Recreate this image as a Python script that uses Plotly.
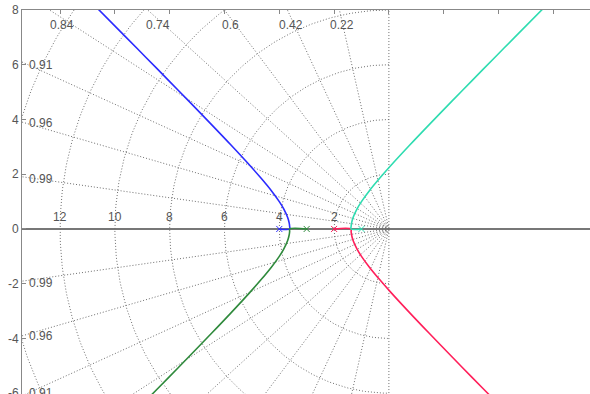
import numpy as np
import plotly.graph_objects as go

# ---- data ----
poles_x = [-1.0, -2.0, -3.0, -4.0]
poles_y = [0.0, 0.0, 0.0, 0.0]

# branch starting at pole -1 (upper right)
cyan_x = [-1.0, -1.382, -1.3784, -1.3607, -1.3061, -1.1568, -1.0, -0.7106, -0.3382, 0.0802,
          0.7626, 1.4545, 2.3098, 3.0345, 3.874, 4.6155, 5.601]
cyan_y = [0.0, 0.0, 0.0892, 0.2195, 0.4188, 0.7445, 1.0, 1.3971, 1.8503, 2.3254,
          3.0651, 3.7932, 4.678, 5.4205, 6.2755, 7.027, 8.024]
# branch starting at pole -2 (lower right)
red_x = [-2.0, -1.382, -1.3784, -1.3607, -1.3061, -1.1568, -1.0, -0.7106, -0.3382, 0.0802,
         0.7626, 1.4545, 2.3098, 3.0345, 3.874, 4.6155, 5.601]
red_y = [0.0, 0.0, -0.0892, -0.2195, -0.4188, -0.7445, -1.0, -1.3971, -1.8503, -2.3254,
         -3.0651, -3.7932, -4.678, -5.4205, -6.2755, -7.027, -8.024]
# branch starting at pole -4 (upper left)
blue_x = [-4.0, -3.618, -3.6216, -3.6393, -3.6939, -3.8432, -4.0, -4.2894, -4.6618, -5.0802,
          -5.7626, -6.4545, -7.3098, -8.0345, -8.874, -9.6155, -10.601]
blue_y = [0.0, 0.0, 0.0892, 0.2195, 0.4188, 0.7445, 1.0, 1.3971, 1.8503, 2.3254,
          3.0651, 3.7932, 4.678, 5.4205, 6.2755, 7.027, 8.024]
# branch starting at pole -3 (lower left)
green_x = [-3.0, -3.618, -3.6216, -3.6393, -3.6939, -3.8432, -4.0, -4.2894, -4.6618, -5.0802,
           -5.7626, -6.4545, -7.3098, -8.0345, -8.874, -9.6155, -10.601]
green_y = [0.0, 0.0, -0.0892, -0.2195, -0.4188, -0.7445, -1.0, -1.3971, -1.8503, -2.3254,
           -3.0651, -3.7932, -4.678, -5.4205, -6.2755, -7.027, -8.024]

# s-plane grid
zeta_values = [0.22, 0.42, 0.6, 0.74, 0.84, 0.91, 0.96, 0.99]
wn_values = [2, 4, 6, 8, 10, 12, 14, 16]
wn_labels = ["2", "4", "6", "8", "10", "12"]
y_ticks = [-6, -4, -2, 0, 2, 4, 6, 8]
y_ticktext = ["-6", "-4", "-2", "0", "2", "4", "6", "8"]
x_ticks = [-12, -10, -8, -6, -4, -2, 0, 2, 4, 6]

# label positions
top_zeta_x = [-1.72, -3.58, -5.77, -8.43, -11.93]
top_zeta_txt = ["0.22", "0.42", "0.6", "0.74", "0.84"]
left_zeta_y = [5.99, 3.87, 1.84, -1.97, -3.9, -5.98]
left_zeta_txt = ["0.91", "0.96", "0.99", "0.99", "0.96", "0.91"]

GRID = "#6e6e6e"
DASH = "1px,2px"

fig = go.Figure()

# rays
for z in zeta_values:
    ang = np.arccos(z)
    for sgn in (1, -1):
        fig.add_trace(go.Scatter(x=[0, -30 * np.cos(ang)], y=[0, sgn * 30 * np.sin(ang)],
                                 mode="lines", line=dict(color=GRID, width=1, dash=DASH),
                                 hoverinfo="skip", showlegend=False))
# imaginary axis
fig.add_trace(go.Scatter(x=[0, 0], y=[-30, 30], mode="lines",
                         line=dict(color=GRID, width=1, dash=DASH),
                         hoverinfo="skip", showlegend=False))
# circles
th = np.linspace(np.pi / 2, 3 * np.pi / 2, 240)
for w in wn_values:
    fig.add_trace(go.Scatter(x=w * np.cos(th), y=w * np.sin(th), mode="lines",
                             line=dict(color=GRID, width=1, dash=DASH),
                             hoverinfo="skip", showlegend=False))

branches = [(blue_x, blue_y, "#2b2bff"), (green_x, green_y, "#2f8a3c"),
            (red_x, red_y, "#ff1f5a"), (cyan_x, cyan_y, "#2edcb0")]
for bx, by, col in branches:
    fig.add_trace(go.Scatter(x=bx, y=by, mode="lines", line=dict(color=col, width=1.6),
                             line_shape="spline", showlegend=False))

pole_cols = ["#2edcb0", "#ff1f5a", "#2f8a3c", "#2b2bff"]
fig.add_trace(go.Scatter(x=poles_x, y=poles_y, mode="markers",
                         marker=dict(symbol="x-thin", size=6, line=dict(width=1, color=pole_cols)),
                         showlegend=False))

ann = []
for i, t in enumerate(wn_labels):
    ann.append(dict(x=-wn_values[i], y=0.42, text=t, showarrow=False,
                    font=dict(size=12, color="#555"), xanchor="center", yanchor="middle"))
for x, t in zip(top_zeta_x, top_zeta_txt):
    ann.append(dict(x=x, y=7.45, text=t, showarrow=False,
                    font=dict(size=12, color="#555"), xanchor="center", yanchor="middle"))
for y, t in zip(left_zeta_y, left_zeta_txt):
    ann.append(dict(x=-13.2, y=y, text=t, showarrow=False,
                    font=dict(size=12, color="#555"), xanchor="left", yanchor="middle"))

fig.update_layout(
    width=590, height=394,
    margin=dict(l=22, r=0, t=10, b=0),
    paper_bgcolor="white", plot_bgcolor="white",
    font=dict(family="Liberation Sans, Arial, sans-serif", size=12, color="#555"),
    annotations=ann,
    xaxis=dict(range=[-13.39, 7.34], side="top", showgrid=False, zeroline=False,
               showline=True, linecolor="#888", linewidth=1, automargin=False,
               tickvals=x_ticks, ticks="inside", ticklen=4, tickcolor="#888",
               showticklabels=False),
    yaxis=dict(range=[-6.03, 8.0], showgrid=False, zeroline=True, zerolinecolor="#777",
               zerolinewidth=1.5, showline=True, linecolor="#888", linewidth=1,
               automargin=False,
               tickvals=y_ticks, ticktext=y_ticktext, ticks="inside", ticklen=4,
               tickcolor="#888", tickfont=dict(size=12, color="#555"),
               ticklabeloverflow="allow"),
)

fig.write_html("out.html", config={"displayModeBar": False},
               post_script="document.body.style.margin='0';document.body.style.overflow='hidden';")
